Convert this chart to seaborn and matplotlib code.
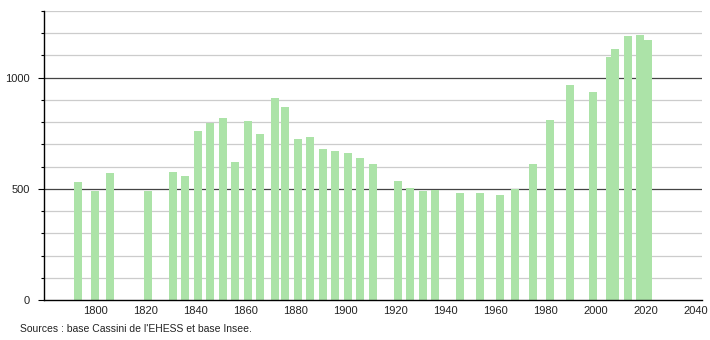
import matplotlib
matplotlib.use("Agg")
import matplotlib.pyplot as plt
import seaborn as sns
import pandas as pd

years = [1793, 1800, 1806, 1821, 1831, 1836, 1841, 1846, 1851, 1856, 1861, 1866,
         1872, 1876, 1881, 1886, 1891, 1896, 1901, 1906, 1911, 1921, 1926, 1931,
         1936, 1946, 1954, 1962, 1968, 1975, 1982, 1990, 1999, 2006, 2008, 2013,
         2018, 2021]
population = [530, 490, 571, 490, 575, 557, 759, 797, 818, 623, 804, 746,
              907, 867, 723, 734, 678, 669, 660, 638, 614, 535, 506, 490,
              494, 481, 481, 472, 499, 611, 810, 966, 936, 1094, 1131, 1187,
              1190, 1168]
xticks = [1800, 1820, 1840, 1860, 1880, 1900, 1920, 1940, 1960, 1980, 2000, 2020, 2040]
yticks = [0, 500, 1000]
source = "Sources : base Cassini de l'EHESS et base Insee."

df = pd.DataFrame({"year": years, "pop": population})

sns.set_style("white")
plt.rcParams["font.family"] = ["Liberation Sans", "DejaVu Sans"]

fig = plt.figure(figsize=(7.1, 3.4), dpi=100)
ax = fig.add_axes([44 / 710, 1 - 300 / 340, (702 - 44) / 710, (300 - 11) / 340])

for v in range(100, 1400, 100):
    if v % 500 == 0:
        ax.axhline(v, color="#444444", lw=0.9, zorder=0)
    else:
        ax.axhline(v, color="#cccccc", lw=0.9, zorder=0)

sns.barplot(data=df, x="year", y="pop", native_scale=True, width=1.6,
            color="#ace3a8", saturation=1, errorbar=None, ax=ax, zorder=2,
            linewidth=0, edgecolor="none")

ax.set_xlim(1779.6, 2042.6)
ax.set_ylim(0, 1300)
ax.set_xticks(xticks)
ax.set_xticklabels([str(t) for t in xticks], fontsize=8, color="#222222")
ax.set_yticks(yticks)
ax.set_yticklabels([str(t) for t in yticks], fontsize=8, color="#222222")
ax.set_yticks(list(range(0, 1400, 100)), minor=True)
ax.tick_params(axis="x", length=0, pad=4)
ax.tick_params(axis="y", which="major", length=4, width=0.8, color="black", pad=6, left=True)
ax.tick_params(axis="y", which="minor", length=2.5, width=0.8, color="black", left=True)
ax.set_xlabel("")
ax.set_ylabel("")
for s in ["top", "right"]:
    ax.spines[s].set_visible(False)
for s in ["left", "bottom"]:
    ax.spines[s].set_color("black")
    ax.spines[s].set_linewidth(1.0)

fig.text(20 / 710, 1 - 329 / 340, source, fontsize=7.5, color="#222222", va="center")

fig.savefig("out.png", dpi=100)
